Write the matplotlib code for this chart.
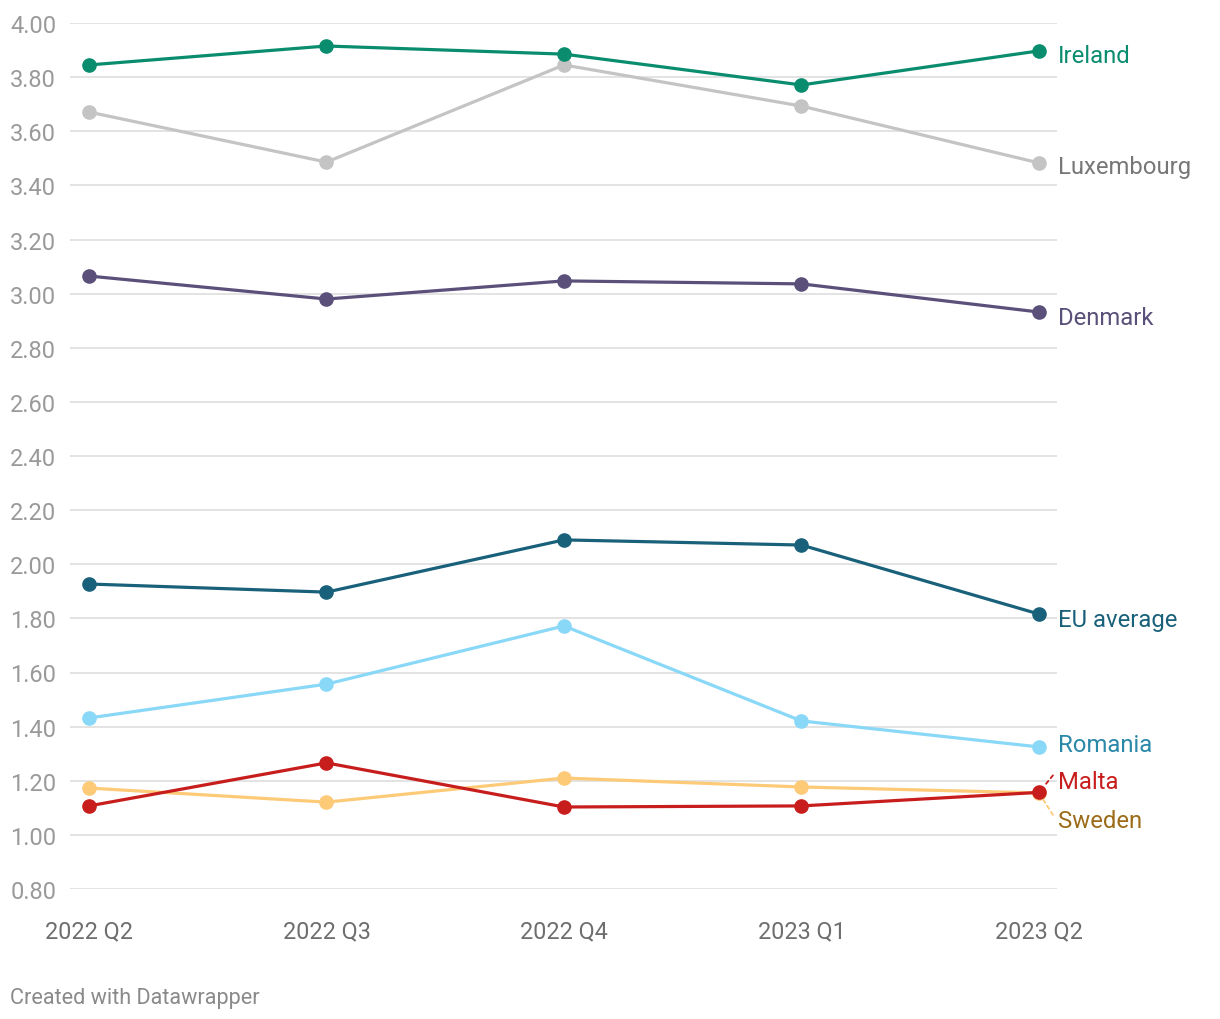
import matplotlib
matplotlib.use("Agg")
import matplotlib.pyplot as plt

quarters = ["2022 Q2", "2022 Q3", "2022 Q4", "2023 Q1", "2023 Q2"]
ireland = [3.845, 3.915, 3.885, 3.771, 3.897]
luxembourg = [3.671, 3.486, 3.845, 3.693, 3.483]
denmark = [3.065, 2.980, 3.047, 3.036, 2.932]
eu_average = [1.927, 1.897, 2.090, 2.071, 1.816]
romania = [1.432, 1.557, 1.772, 1.421, 1.325]
malta = [1.107, 1.266, 1.103, 1.107, 1.157]
sweden = [1.173, 1.121, 1.210, 1.177, 1.155]
y_ticks = [0.8, 1.0, 1.2, 1.4, 1.6, 1.8, 2.0, 2.2, 2.4, 2.6, 2.8, 3.0, 3.2, 3.4, 3.6, 3.8, 4.0]

plt.rcParams['font.family'] = ['Roboto', 'DejaVu Sans']

W, H = 1220, 1020
fig = plt.figure(figsize=(W / 100, H / 100), dpi=100)
left, right, top, bottom = 70, 1057, 24, 890
ax = fig.add_axes([left / W, 1 - bottom / H, (right - left) / W, (bottom - top) / H])

x = list(range(len(quarters)))
# (name, values, line colour, label colour, label dy in pixels)
series = [
    ("Sweden", sweden, "#fdca78", "#9c6c1a", -28),
    ("Malta", malta, "#c71e1d", "#c71e1d", 11),
    ("Romania", romania, "#89d8f7", "#2a88a8", 2),
    ("EU average", eu_average, "#19607a", "#19607a", -5),
    ("Denmark", denmark, "#5a5079", "#5a5079", -5),
    ("Luxembourg", luxembourg, "#c4c4c4", "#777777", -4),
    ("Ireland", ireland, "#0a8c6e", "#0a8c6e", -5),
]

for name, vals, lc, tc, dy in series:
    ax.plot(x, vals, color=lc, lw=2.3, marker="o", ms=9.5, mec=lc, mfc=lc,
            clip_on=False, zorder=3, solid_capstyle="round")
    ax.annotate(name, xy=(x[-1], vals[-1]), xytext=(19, dy), textcoords="offset pixels",
                ha="left", va="center", fontsize=17.2, color=tc, annotation_clip=False)

# dashed connectors for the crowded labels
for name, vals, lc, dy_end in [("Malta", malta, "#c71e1d", 17), ("Sweden", sweden, "#fdca78", -22)]:
    ax.annotate("", xy=(x[-1], vals[-1]), xytext=(14, dy_end), textcoords="offset pixels",
                arrowprops=dict(arrowstyle="-", color=lc, lw=1.3, ls=(0, (2, 2)),
                                shrinkA=0, shrinkB=6), annotation_clip=False)

ax.set_xlim(-0.08, 4.076)
ax.set_ylim(0.8, 4.0)
ax.set_yticks(y_ticks)
ax.set_yticklabels([f"{v:.2f}" for v in y_ticks])
ax.set_xticks(x)
ax.set_xticklabels(quarters)
ax.grid(axis="y", color="#e0e0e0", lw=1.3, zorder=0)
ax.set_axisbelow(True)
for s in ax.spines.values():
    s.set_visible(False)
ax.tick_params(axis="y", length=0, pad=43, labelsize=17, labelcolor="#9a9a9a")
ax.tick_params(axis="x", length=0, pad=21.5, labelsize=16.8, labelcolor="#6e6e6e")
for lab in ax.get_yticklabels():
    lab.set_horizontalalignment("left")

fig.text(10 / W, 1 - 999 / H, "Created with Datawrapper", ha="left", va="center",
         fontsize=15.6, color="#8a8a8a")

fig.savefig("out.png", dpi=100, facecolor="white")
